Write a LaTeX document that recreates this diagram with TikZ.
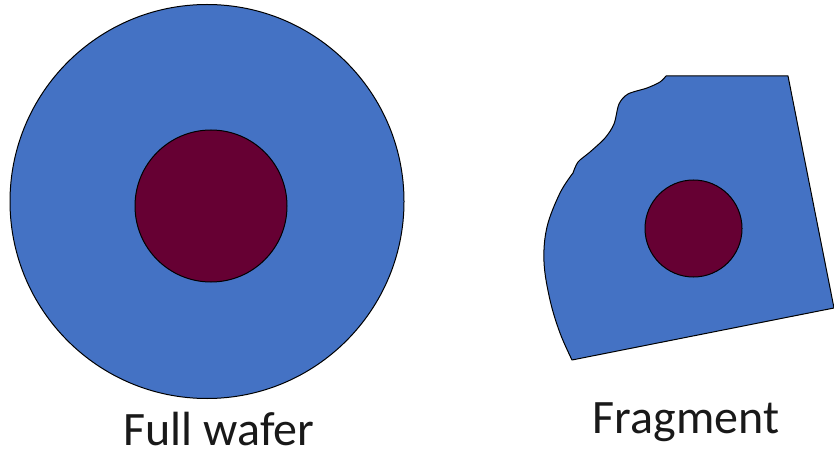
\documentclass[tikz,border=0pt]{standalone}
\usepackage{fontspec}
\setmainfont{Carlito}
\definecolor{waferblue}{HTML}{4472C4}
\definecolor{diemaroon}{HTML}{660033}
\begin{document}
\begin{tikzpicture}[x=1pt,y=-1pt,
  wafer/.style={fill=waferblue,draw=black,line width=1pt},
  die/.style={fill=diemaroon,draw=black,line width=1pt},
  caption/.style={font=\fontsize{48}{54}\selectfont,text=black!90,anchor=base,inner sep=0pt}]
\useasboundingbox (0,0) rectangle (834,454);
% full wafer
\draw[wafer] (207,201.5) circle[radius=197];
\draw[die] (211,206) circle[radius=76];
\node[caption] (fw) at (219,445) {Full wafer};
% fragment
\draw[wafer, line join=round] (666,76) -- (788,76) -- (834,308) -- (572,360)
  -- plot[smooth,tension=0.6] coordinates {(572,360) (560,333) (550,300) (544,262) (547,227) (560,193) (573,173)}
  -- plot[smooth,tension=0.5] coordinates {(573,173) (578,162) (590,152) (605,138) (614,124) (619,104) (628,94) (647,88) (660,82) (666,76)}
  -- cycle;
\draw[die] (693.5,228.5) circle[radius=48.5];
\node[caption] (fr) at (686,433) {Fragment};
\end{tikzpicture}
\end{document}
